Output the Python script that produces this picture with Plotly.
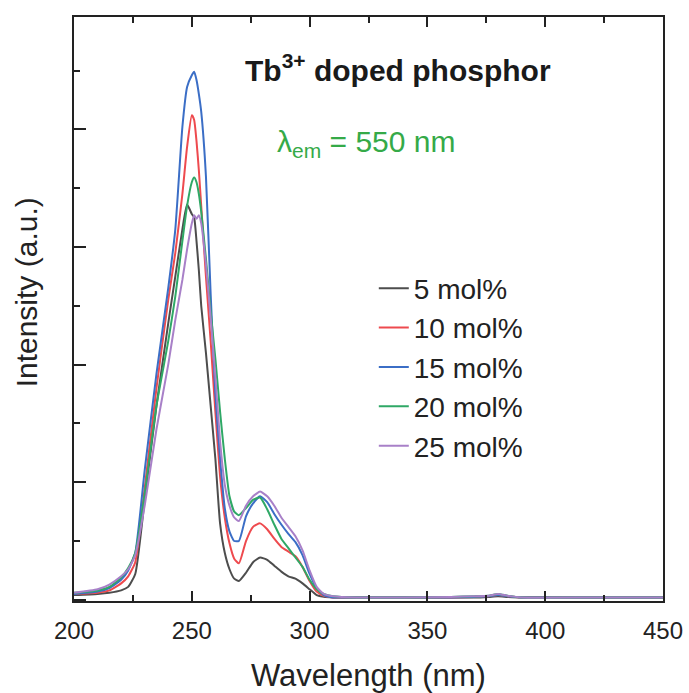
import plotly.graph_objects as go

wavelength = [200, 210, 215, 220, 223, 226, 230, 235, 240, 243, 246, 248, 250, 251, 252, 253, 254,
              256, 258, 260, 262, 264, 266, 268, 270, 273, 276, 279, 282, 285, 288, 291, 294,
              297, 300, 303, 306, 310, 320, 340, 360, 370, 376, 380, 384, 390, 420, 450]

mol5 = [0.04, 0.05, 0.06, 0.08, 0.11, 0.22, 0.85, 1.65, 2.35, 2.75, 3.15, 3.36, 3.28, 3.25, 3.05, 2.8, 2.5,
        2.1, 1.65, 1.2, 0.65, 0.4, 0.26, 0.18, 0.16, 0.23, 0.32, 0.36, 0.34, 0.29, 0.24, 0.2, 0.18,
        0.14, 0.09, 0.04, 0.025, 0.02, 0.02, 0.02, 0.02, 0.02, 0.025, 0.03, 0.025, 0.02, 0.02, 0.02]

mol10 = [0.05, 0.06, 0.08, 0.14, 0.2, 0.32, 0.95, 1.8, 2.55, 2.95, 3.45, 3.85, 4.12, 4.08, 3.9, 3.65, 3.35,
         2.75, 2.2, 1.6, 1.05, 0.7, 0.48, 0.35, 0.31, 0.5, 0.62, 0.65, 0.6, 0.52, 0.45, 0.41, 0.37,
         0.28, 0.16, 0.07, 0.035, 0.02, 0.02, 0.02, 0.02, 0.025, 0.03, 0.04, 0.03, 0.02, 0.02, 0.02]

mol15 = [0.05, 0.07, 0.1, 0.17, 0.25, 0.4, 1.1, 1.92, 2.65, 3.15, 4.02, 4.36, 4.46, 4.49, 4.42, 4.3, 4.15,
         3.6, 2.6, 1.75, 1.2, 0.78, 0.58, 0.5, 0.5, 0.71, 0.82, 0.88, 0.83, 0.73, 0.64, 0.56, 0.49,
         0.38, 0.22, 0.1, 0.04, 0.02, 0.02, 0.02, 0.02, 0.025, 0.03, 0.04, 0.03, 0.02, 0.02, 0.02]

mol20 = [0.06, 0.08, 0.11, 0.19, 0.27, 0.4, 0.9, 1.65, 2.2, 2.58, 3.05, 3.35, 3.55, 3.59, 3.55, 3.45, 3.3,
         2.9, 2.45, 2.05, 1.6, 1.2, 0.88, 0.75, 0.72, 0.78, 0.85, 0.87, 0.77, 0.64, 0.52, 0.44, 0.36,
         0.28, 0.17, 0.09, 0.05, 0.03, 0.02, 0.02, 0.025, 0.03, 0.035, 0.05, 0.035, 0.02, 0.02, 0.02]

mol25 = [0.06, 0.09, 0.13, 0.2, 0.26, 0.38, 0.8, 1.45, 2.0, 2.38, 2.72, 2.98, 3.2, 3.27, 3.24, 3.27, 3.2,
         2.85, 2.4, 1.9, 1.35, 0.98, 0.8, 0.7, 0.67, 0.8, 0.88, 0.92, 0.88, 0.8, 0.7, 0.62, 0.54,
         0.42, 0.25, 0.11, 0.05, 0.03, 0.02, 0.02, 0.025, 0.03, 0.035, 0.05, 0.035, 0.02, 0.02, 0.02]

series_names = ["5 mol%", "10 mol%", "15 mol%", "20 mol%", "25 mol%"]
series_values = [mol5, mol10, mol15, mol20, mol25]
series_colors = ["#4d4d4d", "#ee4a4e", "#3b6ec6", "#2fa866", "#a880c8"]

FONT = "Liberation Sans, Arial, sans-serif"

fig = go.Figure()
for name, vals, col in zip(series_names, series_values, series_colors):
    fig.add_trace(go.Scatter(
        x=wavelength, y=vals, mode="lines", name=name, legendgroup=name,
        line=dict(color=col, width=2, shape="spline", smoothing=0.5),
    ))

fig.update_layout(
    width=689, height=693,
    margin=dict(l=74, r=26, t=17, b=92, autoexpand=False),
    paper_bgcolor="white", plot_bgcolor="white",
    font=dict(family=FONT, color="#222222"),
    showlegend=True,
    legend=dict(
        x=0.509, y=0.578, xanchor="left", yanchor="top",
        font=dict(size=28, family=FONT, color="#222222"),
        bgcolor="rgba(0,0,0,0)", tracegroupgap=0, itemwidth=30,
    ),
    xaxis=dict(
        range=[200, 450], tickmode="linear", tick0=200, dtick=50,
        ticks="inside", ticklen=10, tickwidth=2, tickcolor="#222222",
        minor=dict(ticks="inside", dtick=25, ticklen=6, tickwidth=2, tickcolor="#222222"),
        showline=True, linecolor="#222222", linewidth=2, mirror="ticks",
        showgrid=False, zeroline=False, automargin=False,
        tickfont=dict(size=24, family=FONT, color="#222222"),
        ticklabelstandoff=7,
    ),
    yaxis=dict(
        range=[-0.01, 4.955], tickmode="linear", tick0=0, dtick=1,
        ticks="inside", ticklen=12, tickwidth=2, tickcolor="#222222",
        minor=dict(ticks="inside", dtick=0.5, ticklen=6, tickwidth=2, tickcolor="#222222"),
        showline=True, linecolor="#222222", linewidth=2, mirror=True,
        showgrid=False, zeroline=False, showticklabels=False, automargin=False,
    ),
    annotations=[
        dict(text="<b>Tb<sup>3+</sup> doped phosphor</b>", xref="paper", yref="paper",
             x=0.55, y=0.912, xanchor="center", yanchor="middle", showarrow=False,
             font=dict(size=30, family=FONT, color="#1a1a1a")),
        dict(text="λ<sub>em</sub> = 550 nm", xref="paper", yref="paper",
             x=0.496, y=0.784, xanchor="center", yanchor="middle", showarrow=False,
             font=dict(size=30, family=FONT, color="#35aa48")),
        dict(text="Intensity (a.u.)", xref="paper", yref="paper",
             x=-0.081, y=0.529, xanchor="center", yanchor="middle", showarrow=False,
             textangle=-90, font=dict(size=30, family=FONT, color="#222222")),
        dict(text="Wavelength (nm)", xref="paper", yref="paper",
             x=0.5, y=-0.128, xanchor="center", yanchor="middle", showarrow=False,
             font=dict(size=31, family=FONT, color="#222222")),
    ],
)

fig.write_html("out.html")
